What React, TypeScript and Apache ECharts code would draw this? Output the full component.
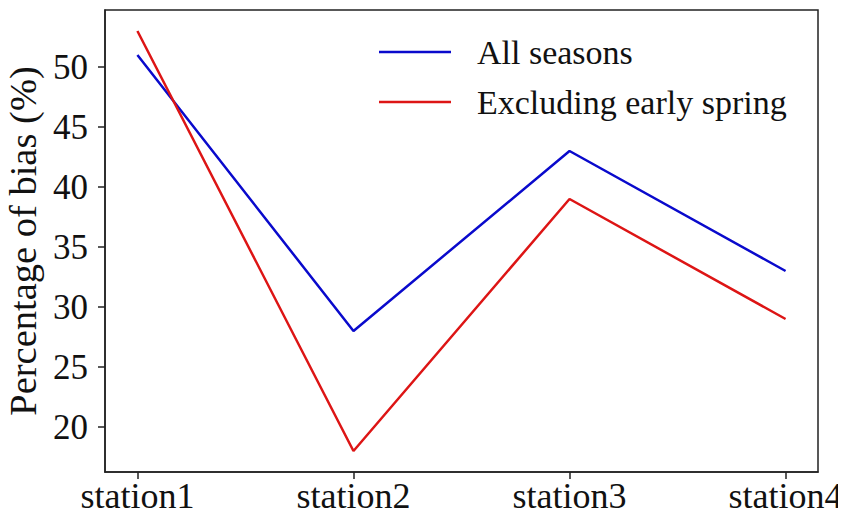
import React, { useEffect, useRef } from "react";
import * as echarts from "echarts";

const categories = ["station1", "station2", "station3", "station4"];
const allSeasons = [51, 28, 43, 33];
const excludingEarlySpring = [53, 18, 39, 29];
const yTicks = [20, 25, 30, 35, 40, 45, 50];

const FONT = "Liberation Serif";

export default function App() {
  const ref = useRef<HTMLDivElement>(null);
  useEffect(() => {
    if (!ref.current) return;
    const chart = echarts.init(ref.current, undefined, { renderer: "svg" });
    const toPts = (arr: number[]) => arr.map((v, i) => [i, v]);
    chart.setOption({
      animation: false,
      backgroundColor: "#ffffff",
      textStyle: { fontFamily: FONT },
      grid: {
        left: 105,
        right: 28,
        top: 10,
        bottom: 49,
        outerBoundsMode: "none",
        containLabel: false,
        show: true,
        borderColor: "#222",
        borderWidth: 1.5,
        backgroundColor: "transparent",
      },
      legend: {
        orient: "vertical",
        left: 374,
        top: 30,
        itemWidth: 72,
        itemHeight: 14,
        itemGap: 16,
        icon: "path://M0,6 L72,6 L72,8.5 L0,8.5 Z",
        textStyle: {
          fontFamily: FONT,
          fontSize: 34,
          color: "#111",
          lineHeight: 34,
          padding: [0, 0, 0, 21],
        },
        data: ["All seasons", "Excluding early spring"],
      },
      xAxis: {
        type: "value",
        min: -0.15,
        max: 3.15,
        interval: 1,
        splitLine: { show: false },
        axisLine: { show: true, onZero: false, lineStyle: { color: "#222", width: 1.5 } },
        axisTick: { show: true, length: 7, inside: false, lineStyle: { color: "#222", width: 1.5 }, customValues: [0, 1, 2, 3] },
        axisLabel: {
          fontFamily: FONT,
          fontSize: 36,
          lineHeight: 36,
          color: "#111",
          margin: 6,
          customValues: [0, 1, 2, 3],
          formatter: (v: number) => categories[Math.round(v)] ?? "",
        },
      },
      yAxis: {
        type: "value",
        min: 16.25,
        max: 54.75,
        name: "Percentage of bias (%)",
        nameLocation: "middle",
        nameGap: 60,
        nameTextStyle: { fontFamily: FONT, fontSize: 38.5, color: "#111" },
        splitLine: { show: false },
        axisLine: { show: true, onZero: false, lineStyle: { color: "#222", width: 1.5 } },
        axisTick: { show: true, length: 7, lineStyle: { color: "#222", width: 1.5 }, customValues: yTicks },
        axisLabel: {
          fontFamily: FONT,
          fontSize: 35,
          color: "#111",
          margin: 17,
          customValues: yTicks,
        },
      },
      series: [
        {
          name: "All seasons",
          type: "line",
          data: toPts(allSeasons),
          symbol: "none",
          lineStyle: { color: "#0a0acc", width: 2.5 },
          itemStyle: { color: "#0a0acc" },
        },
        {
          name: "Excluding early spring",
          type: "line",
          data: toPts(excludingEarlySpring),
          symbol: "none",
          lineStyle: { color: "#dd1515", width: 2.5 },
          itemStyle: { color: "#dd1515" },
        },
      ],
    });
    return () => chart.dispose();
  }, []);
  return <div ref={ref} style={{ width: 846, height: 521, margin: -8 }} />;
}
